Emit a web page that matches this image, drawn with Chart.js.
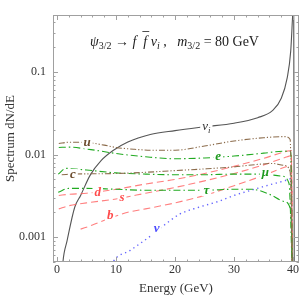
<!DOCTYPE html>
<html>
<head>
<meta charset="utf-8">
<script src="https://cdn.jsdelivr.net/npm/chart.js@4.4.1/dist/chart.umd.min.js"></script>
<style>
  html, body { margin: 0; padding: 0; background: #fff; }
  #wrap { width: 302px; height: 296px; }
</style>
</head>
<body>
<div id="wrap"><canvas id="spectrumChart" width="302" height="296"></canvas></div>
<script>
"use strict";

// axis ticks
const xTickVals = [0, 10, 20, 30, 40];
const yTickVals = [0.001, 0.01, 0.1];
const yTickLabels = ["0.001", "0.01", "0.1"];

// nu_i (prompt neutrino line)
const nuiE = [0.8, 1.0, 1.7, 3, 4, 5.6, 7.5, 9.5, 12, 15.8, 20, 25, 30, 34, 36.5, 38, 39, 39.6, 39.9, 40.1, 40.2];
const nuiV = [0.0003, 0.0005, 0.0009, 0.0023, 0.0032, 0.0056, 0.0085, 0.0112, 0.0142, 0.0175, 0.0195, 0.0217, 0.024, 0.028, 0.034, 0.048, 0.085, 0.18, 0.45, 0.8, 0.0003];

// quarks u, c (brown)
const uE = [0.3, 2, 5, 8, 10, 13, 16, 20, 25, 30, 35, 38.5, 39.5, 39.9];
const uV = [0.0136, 0.0141, 0.0140, 0.0130, 0.0122, 0.0116, 0.0113, 0.0113, 0.0127, 0.0146, 0.0160, 0.0165, 0.0152, 0.0003];
const cE = [0.8, 3, 10, 15, 20, 25, 30, 34, 36.5, 38.5, 39.5, 39.9];
const cV = [0.0057, 0.0058, 0.0059, 0.0061, 0.0064, 0.0067, 0.0071, 0.0076, 0.0078, 0.0074, 0.0062, 0.0003];

// leptons e, mu, tau (green)
const eE = [0.3, 2, 5, 10, 15, 20, 25, 30, 35, 38.5, 39.6, 39.9];
const eV = [0.0122, 0.0123, 0.0117, 0.0103, 0.0094, 0.0089, 0.0091, 0.0096, 0.0104, 0.0110, 0.0108, 0.0003];
const muE = [0.2, 1.5, 5, 10, 15, 20, 25, 30, 35, 38, 39.3, 39.9];
const muV = [0.0058, 0.0068, 0.0065, 0.0060, 0.0058, 0.0057, 0.0057, 0.0058, 0.0058, 0.0055, 0.0045, 0.0003];
const tauE = [0.2, 2, 5, 10, 15, 20, 25, 30, 33, 36, 38.5, 39.6, 39.9];
const tauV = [0.0035, 0.0039, 0.0039, 0.0038, 0.0037, 0.0037, 0.0037, 0.0038, 0.0038, 0.0033, 0.0027, 0.0021, 0.0003];

// quarks d, s, b (red)
const dE = [0.3, 2, 5, 10, 15, 20, 25, 30, 35, 39, 39.7, 39.9];
const dV = [0.0032, 0.0033, 0.0034, 0.0038, 0.0044, 0.0050, 0.0059, 0.0072, 0.0090, 0.0110, 0.0112, 0.0003];
const sE = [0.3, 2, 5, 10, 15, 20, 25, 30, 35, 39, 39.7, 39.9];
const sV = [0.0022, 0.0024, 0.0026, 0.0029, 0.0034, 0.0040, 0.0048, 0.0059, 0.0075, 0.0094, 0.0097, 0.0003];
const bE = [4, 6, 9, 12, 15, 20, 25, 30, 35, 39, 39.7, 39.9];
const bV = [0.00125, 0.0014, 0.0017, 0.0020, 0.0022, 0.0026, 0.0032, 0.0042, 0.0056, 0.0072, 0.0074, 0.0003];

// nu (blue)
const nuE = [9, 9.5, 12.4, 15.9, 17.6, 20.8, 24, 27.3, 30, 32.9, 36, 38.5, 39.7, 39.9];
const nuV = [0.0004, 0.0005, 0.00069, 0.00104, 0.0013, 0.0019, 0.0023, 0.0027, 0.0032, 0.0037, 0.0043, 0.0048, 0.0051, 0.0003];

// curve labels
const labelText = ["u", "c", "e", "μ", "τ", "d", "s", "b", "ν", "ν"];
const labelSub = ["", "", "", "", "", "", "", "", "", "i"];
const labelE = [5.1, 2.7, 27.3, 35.3, 25.3, 6.9, 11.0, 9.0, 16.9, 25.3];
const labelV = [0.0140, 0.0057, 0.0095, 0.0060, 0.0037, 0.0035, 0.0030, 0.0018, 0.00125, 0.0218];

const BROWN = "#8c6c4c";
const GREEN = "#22aa22";
const RED = "rgba(255, 95, 95, 0.8)";
const BLUE = "#6464ff";
const labelColor = ["#6e4e30", "#6e4e30", "#1f9a1f", "#1f9a1f", "#1f9a1f", "#ff4b4b", "#ff4b4b", "#ff4b4b", "#4b4bff", "#333"];

const pts = (xs, ys) => xs.map((x, i) => ({ x: x, y: ys[i] }));

function series(xs, ys, color, dash, width) {
  return {
    data: pts(xs, ys),
    borderColor: color,
    borderWidth: width || 1.1,
    borderDash: dash,
    pointRadius: 0,
    fill: false,
    cubicInterpolationMode: "monotone",
  };
}

const DASHDOT2 = [6, 2, 1.2, 2, 1.2, 2];
const DASHDOT = [7, 3, 1.5, 3];
const DASHED = [7, 4];
const DOTTED = [1.3, 3.5];

const SERIF = "'Liberation Serif', 'DejaVu Serif', serif";

const frameAndLabels = {
  id: "frameAndLabels",
  afterDatasetsDraw(chart) {
    const { ctx, chartArea: a, scales } = chart;
    const x = scales.x, y = scales.y;
    ctx.save();

    // frame
    ctx.strokeStyle = "#a0a0a0";
    ctx.lineWidth = 1;
    ctx.strokeRect(a.left + 0.5, a.top + 0.5, a.right - a.left - 1, a.bottom - a.top - 1);

    // inside ticks
    ctx.beginPath();
    for (let v = 0; v <= 40; v += 2) {
      const px = Math.round(x.getPixelForValue(v)) + 0.5;
      const len = v % 10 === 0 ? 5 : 2.5;
      ctx.moveTo(px, a.bottom); ctx.lineTo(px, a.bottom - len);
      ctx.moveTo(px, a.top); ctx.lineTo(px, a.top + len);
    }
    for (let p = -4; p <= 0; p++) {
      for (let k = 1; k <= 9; k++) {
        const v = k * Math.pow(10, p);
        if (v < y.min || v > y.max) continue;
        const py = Math.round(y.getPixelForValue(v)) + 0.5;
        const len = k === 1 ? 5 : 2.5;
        ctx.moveTo(a.left, py); ctx.lineTo(a.left + len, py);
        ctx.moveTo(a.right, py); ctx.lineTo(a.right - len, py);
      }
    }
    ctx.stroke();

    // curve labels
    ctx.textBaseline = "middle";
    ctx.textAlign = "left";
    labelText.forEach((t, i) => {
      const px = x.getPixelForValue(labelE[i]);
      const py = y.getPixelForValue(labelV[i]);
      const main = (i === 9 ? "italic " : "italic bold ") + "13px " + SERIF;
      const sub = "italic 9px " + SERIF;
      ctx.font = main;
      const w1 = ctx.measureText(t).width;
      ctx.font = sub;
      const w2 = labelSub[i] ? ctx.measureText(labelSub[i]).width : 0;
      const w = w1 + w2;
      ctx.fillStyle = "#fff";
      ctx.fillRect(px - w / 2 - 2, py - 6, w + 4, 12);
      ctx.fillStyle = labelColor[i];
      ctx.font = main;
      ctx.fillText(t, px - w / 2, py);
      if (labelSub[i]) {
        ctx.font = sub;
        ctx.fillText(labelSub[i], px - w / 2 + w1, py + 4);
      }
    });

    // in-plot title: psi_3/2 -> f fbar nu_i , m_3/2 = 80 GeV
    const parts = [
      ["ψ", "i"], ["3/2", "s"], [" → ", "r"], ["f", "i"], ["  ", "r"], ["f", "ib"],
      [" ", "r"], ["ν", "i"], ["i", "si"], [" ,   ", "r"], ["m", "i"], ["3/2", "s"], [" = 80 GeV", "r"],
    ];
    let cx = a.left + 37;
    const base = a.top + 31;
    ctx.fillStyle = "#222";
    ctx.textBaseline = "alphabetic";
    parts.forEach(([s, k]) => {
      let font = "14px " + SERIF, dy = 0;
      if (k === "i" || k === "ib") font = "italic 14px " + SERIF;
      if (k === "s") { font = "10px " + SERIF; dy = 3; }
      if (k === "si") { font = "italic 10px " + SERIF; dy = 3; }
      ctx.font = font;
      ctx.fillText(s, cx, base + dy);
      const w = ctx.measureText(s).width;
      if (k === "ib") {
        ctx.strokeStyle = "#222";
        ctx.lineWidth = 0.8;
        ctx.beginPath();
        ctx.moveTo(cx - 1, base - 14.5); ctx.lineTo(cx + w + 2, base - 14.5);
        ctx.stroke();
      }
      cx += w;
    });

    ctx.restore();
  },
};

const data = {
  datasets: [
    series(uE, uV, BROWN, DASHDOT2),
    series(cE, cV, BROWN, DASHDOT2),
    series(eE, eV, GREEN, DASHDOT),
    series(muE, muV, GREEN, DASHDOT),
    series(tauE, tauV, GREEN, DASHDOT),
    series(dE, dV, RED, DASHED),
    series(sE, sV, RED, DASHED),
    series(bE, bV, RED, DASHED),
    series(nuE, nuV, BLUE, DOTTED, 1.4),
    series(nuiE, nuiV, "#555", [], 1.1),
  ],
};

const config = {
  type: "line",
  data: data,
  options: {
    responsive: false,
    animation: false,
    devicePixelRatio: 1,
    layout: { padding: { top: 15, right: 3, left: 0, bottom: 0 } },
    plugins: { legend: { display: false }, tooltip: { enabled: false } },
    scales: {
      x: {
        type: "linear",
        min: -0.68,
        max: 41.0,
        bounds: "data",
        grid: { display: false, drawTicks: false },
        border: { display: false },
        afterBuildTicks: (scale) => { scale.ticks = xTickVals.map((v) => ({ value: v })); },
        afterFit: (scale) => { scale.height = 34; },
        ticks: {
          padding: 1,
          color: "#333",
          font: { family: SERIF, size: 12 },
          maxRotation: 0,
          callback: (v) => String(v),
        },
        title: {
          display: true,
          text: "Energy (GeV)",
          color: "#333",
          font: { family: SERIF, size: 13 },
          padding: { top: 0, bottom: 0 },
        },
      },
      y: {
        type: "logarithmic",
        min: 0.0005,
        max: 0.49,
        bounds: "data",
        grid: { display: false, drawTicks: false },
        border: { display: false },
        afterBuildTicks: (scale) => { scale.ticks = yTickVals.map((v) => ({ value: v })); },
        afterFit: (scale) => { scale.width = 53; },
        ticks: {
          padding: 7,
          color: "#333",
          font: { family: SERIF, size: 12 },
          callback: (v) => yTickLabels[yTickVals.indexOf(v)] || "",
        },
        title: {
          display: true,
          text: "Spectrum dN/dE",
          color: "#333",
          font: { family: SERIF, size: 13 },
          padding: { top: 3, bottom: 0 },
        },
      },
    },
  },
  plugins: [frameAndLabels],
};

const spectrumChart = new Chart(document.getElementById("spectrumChart"), config);
</script>
</body>
</html>
